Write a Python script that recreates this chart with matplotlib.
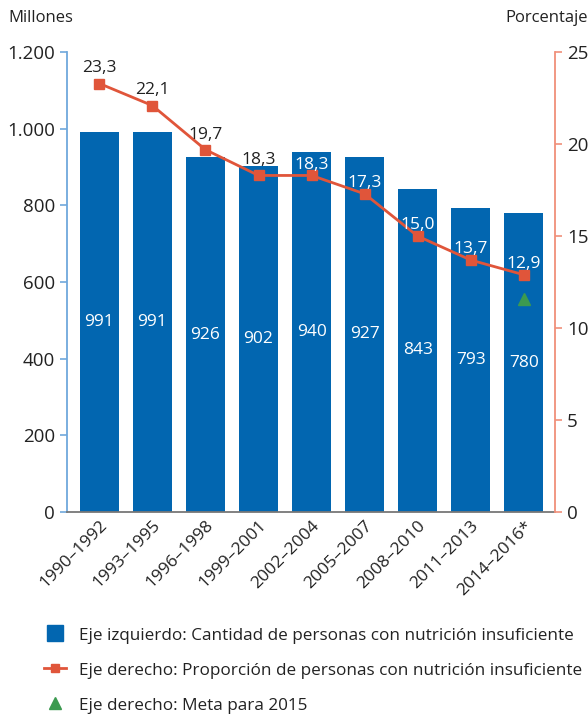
import matplotlib.pyplot as plt
from matplotlib.lines import Line2D

periods = ["1990–1992", "1993–1995", "1996–1998", "1999–2001", "2002–2004",
           "2005–2007", "2008–2010", "2011–2013", "2014–2016*"]
undernourished = [991, 991, 926, 902, 940, 927, 843, 793, 780]
proportion = [23.3, 22.1, 19.7, 18.3, 18.3, 17.3, 15.0, 13.7, 12.9]
goal_2015 = 11.6
left_ticks = [0, 200, 400, 600, 800, 1000, 1200]
left_ticklabels = ["0", "200", "400", "600", "800", "1.000", "1.200"]
right_ticks = [0, 5, 10, 15, 20, 25]

BLUE = "#0266b0"
RED = "#e0553a"
GREEN = "#3c9a50"
DARK = "#222222"

plt.rcParams['font.family'] = ['Open Sans', 'DejaVu Sans']

fig = plt.figure(figsize=(5.88, 7.16), dpi=100)
ax = fig.add_axes([0.114, 0.285, 0.83, 0.642])
x = list(range(len(periods)))

ax.bar(x, undernourished, width=0.74, color=BLUE, zorder=2)
for xi, v in zip(x, undernourished):
    ax.text(xi, v / 2, str(v), color="white", ha="center", va="center", fontsize=12.5)

ax.set_ylim(0, 1200)
ax.set_xlim(-0.61, 8.59)
ax.set_yticks(left_ticks)
ax.set_yticklabels(left_ticklabels)
ax.set_xticks(x)
ax.set_xticklabels(periods, rotation=45, ha="right", rotation_mode="anchor")
ax.tick_params(axis="x", length=0, pad=4, labelsize=12.5, labelcolor=DARK)
ax.tick_params(axis="y", colors="#6fa8dc", labelcolor=DARK, labelsize=13.5,
               length=5, width=1.2, direction="out")
for s in ["top", "right"]:
    ax.spines[s].set_visible(False)
ax.spines["left"].set_color("#6fa8dc")
ax.spines["left"].set_linewidth(1.3)
ax.spines["bottom"].set_color("#777777")
ax.spines["bottom"].set_linewidth(1.3)

ax2 = ax.twinx()
ax2.plot(x, proportion, color=RED, lw=2, marker="s", markersize=7, zorder=3)
ax2.plot([x[-1]], [goal_2015], marker="^", color=GREEN, markersize=9, linestyle="none", zorder=3)
for i, (xi, v) in enumerate(zip(x, proportion)):
    # first four labels sit above the bars, the rest on the bars in white
    on_bar = i >= 4
    ax2.annotate(f"{v:.1f}".replace(".", ","), (xi, v),
                 xytext=(0, 5 if on_bar else 8), textcoords="offset points",
                 ha="center", va="baseline", fontsize=12.5,
                 color="white" if on_bar else DARK)
ax2.set_ylim(0, 25)
ax2.set_yticks(right_ticks)
ax2.set_yticklabels([str(t) for t in right_ticks])
ax2.tick_params(axis="y", colors="#f0907a", labelcolor=DARK, labelsize=13.5, length=5, width=1.2)
for s in ["top", "left", "bottom"]:
    ax2.spines[s].set_visible(False)
ax2.spines["right"].set_color("#f0907a")
ax2.spines["right"].set_linewidth(1.3)

fig.text(0.014, 0.975, "Millones", fontsize=12, ha="left", va="center", color=DARK)
fig.text(1.0, 0.975, "Porcentaje", fontsize=12, ha="right", va="center", color=DARK)

handles = [
    Line2D([0], [0], color=BLUE, marker="s", markersize=11, linestyle="none"),
    Line2D([0], [0], color=RED, lw=2, marker="s", markersize=6),
    Line2D([0], [0], color=GREEN, marker="^", markersize=9, linestyle="none"),
]
labels = [
    "Eje izquierdo: Cantidad de personas con nutrición insuficiente",
    "Eje derecho: Proporción de personas con nutrición insuficiente",
    "Eje derecho: Meta para 2015",
]
fig.legend(handles, labels, loc="upper left", bbox_to_anchor=(0.075, 0.126), frameon=False,
           fontsize=12.3, handlelength=1.3, handleheight=1.2, handletextpad=0.75,
           labelspacing=0.95, borderpad=0, borderaxespad=0, labelcolor=DARK)

fig.savefig("out.png", dpi=100)
